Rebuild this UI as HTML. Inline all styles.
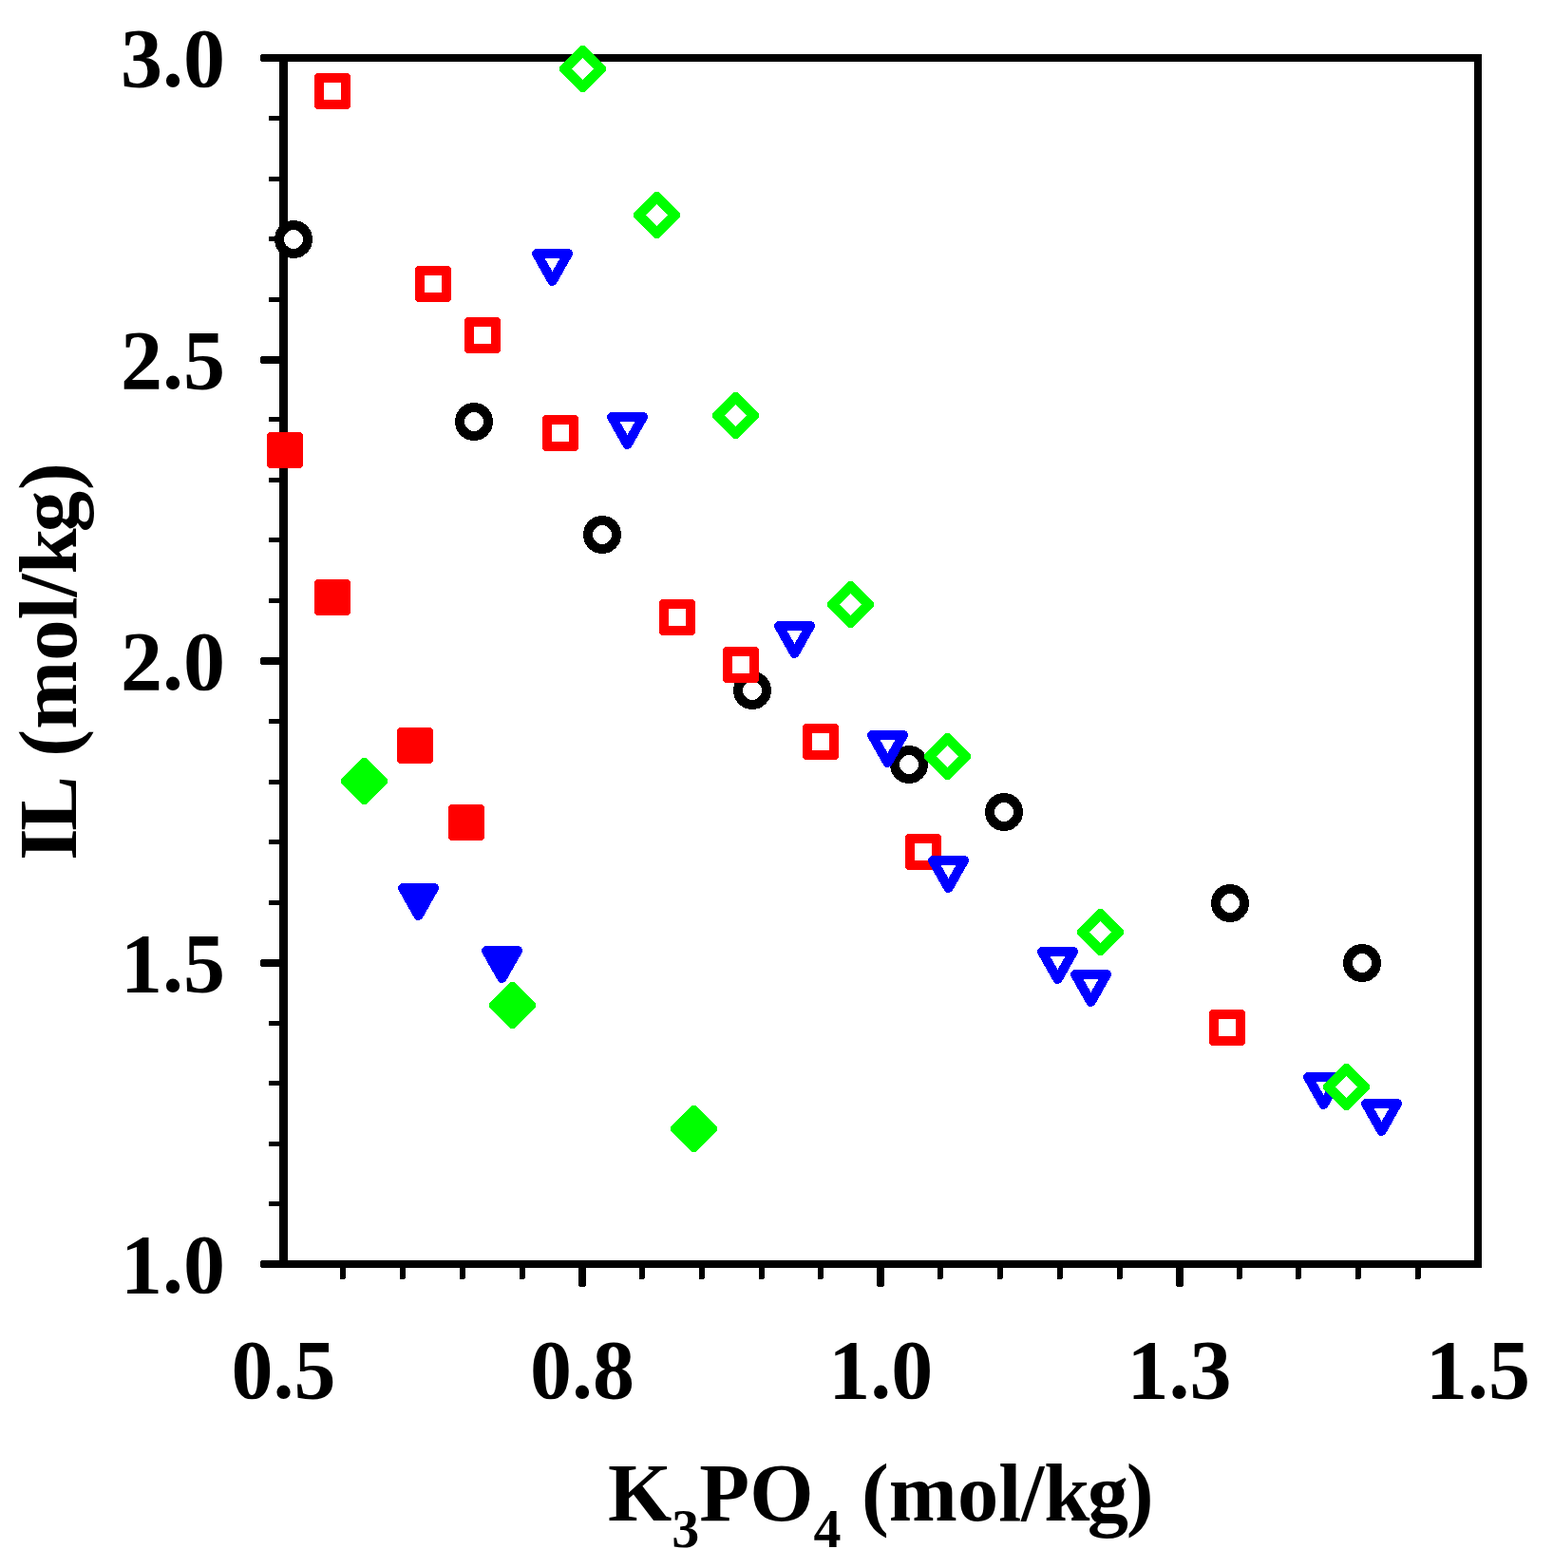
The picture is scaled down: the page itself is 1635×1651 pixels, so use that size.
<!DOCTYPE html>
<html><head><meta charset="utf-8"><title>IL vs K3PO4</title>
<style>html,body{margin:0;padding:0;background:#fff;}svg{display:block;}</style></head><body>
<svg width="1635" height="1651" viewBox="0 0 1635 1651">
<rect width="1635" height="1651" fill="#fff"/>
<g fill="#000" shape-rendering="crispEdges">
<rect x="294" y="57" width="1266" height="8"/>
<rect x="294" y="1327" width="1266" height="8"/>
<rect x="274" y="1327" width="24" height="8" rx="2.5"/>
<rect x="294" y="57" width="9" height="1278"/>
<rect x="1552" y="57" width="8" height="1278"/>
<rect x="274" y="57" width="24" height="8" rx="2.5"/>
<rect x="283" y="1265" width="15" height="5" rx="1.5"/>
<rect x="283" y="1202" width="15" height="5" rx="1.5"/>
<rect x="283" y="1138" width="15" height="5" rx="1.5"/>
<rect x="283" y="1075" width="15" height="5" rx="1.5"/>
<rect x="274" y="1010" width="24" height="8" rx="2.5"/>
<rect x="283" y="948" width="15" height="5" rx="1.5"/>
<rect x="283" y="884" width="15" height="5" rx="1.5"/>
<rect x="283" y="821" width="15" height="5" rx="1.5"/>
<rect x="283" y="757" width="15" height="5" rx="1.5"/>
<rect x="274" y="692" width="24" height="8" rx="2.5"/>
<rect x="283" y="630" width="15" height="5" rx="1.5"/>
<rect x="283" y="566" width="15" height="5" rx="1.5"/>
<rect x="283" y="503" width="15" height="5" rx="1.5"/>
<rect x="283" y="439" width="15" height="5" rx="1.5"/>
<rect x="274" y="375" width="24" height="8" rx="2.5"/>
<rect x="283" y="313" width="15" height="5" rx="1.5"/>
<rect x="283" y="249" width="15" height="5" rx="1.5"/>
<rect x="283" y="186" width="15" height="5" rx="1.5"/>
<rect x="283" y="122" width="15" height="5" rx="1.5"/>
<rect x="358" y="1331" width="6" height="16" rx="2"/>
<rect x="421" y="1331" width="6" height="16" rx="2"/>
<rect x="484" y="1331" width="6" height="16" rx="2"/>
<rect x="547" y="1331" width="6" height="16" rx="2"/>
<rect x="609" y="1331" width="8" height="24" rx="2.5"/>
<rect x="673" y="1331" width="6" height="16" rx="2"/>
<rect x="736" y="1331" width="6" height="16" rx="2"/>
<rect x="799" y="1331" width="6" height="16" rx="2"/>
<rect x="861" y="1331" width="6" height="16" rx="2"/>
<rect x="923" y="1331" width="8" height="24" rx="2.5"/>
<rect x="987" y="1331" width="6" height="16" rx="2"/>
<rect x="1050" y="1331" width="6" height="16" rx="2"/>
<rect x="1113" y="1331" width="6" height="16" rx="2"/>
<rect x="1176" y="1331" width="6" height="16" rx="2"/>
<rect x="1238" y="1331" width="8" height="24" rx="2.5"/>
<rect x="1302" y="1331" width="6" height="16" rx="2"/>
<rect x="1364" y="1331" width="6" height="16" rx="2"/>
<rect x="1427" y="1331" width="6" height="16" rx="2"/>
<rect x="1490" y="1331" width="6" height="16" rx="2"/>
</g>
<g font-family="&quot;Liberation Serif&quot;, serif" font-weight="bold" font-size="88" fill="#000">
<text x="237" y="91.0" text-anchor="end">3.0</text>
<text x="237" y="408.5" text-anchor="end">2.5</text>
<text x="237" y="726.0" text-anchor="end">2.0</text>
<text x="237" y="1043.5" text-anchor="end">1.5</text>
<text x="237" y="1361.0" text-anchor="end">1.0</text>
<text x="298.5" y="1472" text-anchor="middle">0.5</text>
<text x="612.9" y="1472" text-anchor="middle">0.8</text>
<text x="927.2" y="1472" text-anchor="middle">1.0</text>
<text x="1241.6" y="1472" text-anchor="middle">1.3</text>
<text x="1556.0" y="1472" text-anchor="middle">1.5</text>
<text x="640" y="1601" font-size="86.5">K<tspan font-size="58" dy="28">3</tspan><tspan dy="-28">PO</tspan><tspan font-size="58" dy="28">4</tspan><tspan dy="-28"> (mol/k</tspan><tspan dx="-2.5">g</tspan><tspan dx="-2.4">)</tspan></text>
<text transform="translate(79.5 905.9) rotate(-90)" font-size="86.5">I<tspan dx="-2.5">L</tspan><tspan dx="3.5"> (mol/k</tspan><tspan dx="-4">g</tspan><tspan dx="1">)</tspan></text>
</g>
<g shape-rendering="crispEdges">
<g fill="#fff" stroke="#000" stroke-width="10">
<circle cx="309" cy="252" r="15"/>
<circle cx="499" cy="444" r="15"/>
<circle cx="634" cy="563" r="15"/>
<circle cx="792" cy="727" r="15"/>
<circle cx="957" cy="805" r="15"/>
<circle cx="1057" cy="855" r="15"/>
<circle cx="1295" cy="951" r="15"/>
<circle cx="1434" cy="1014" r="15"/>
</g>
<g fill="#f00">
<path d="M333.3,77.0H366.7L369.0,79.3V112.7L366.7,115.0H333.3L331.0,112.7V79.3Z"/><rect x="341.0" y="87.0" width="18" height="18" fill="#fff"/>
<path d="M439.3,280.0H472.7L475.0,282.3V315.7L472.7,318.0H439.3L437.0,315.7V282.3Z"/><rect x="447.0" y="290.0" width="18" height="18" fill="#fff"/>
<path d="M491.3,334.0H524.7L527.0,336.3V369.7L524.7,372.0H491.3L489.0,369.7V336.3Z"/><rect x="499.0" y="344.0" width="18" height="18" fill="#fff"/>
<path d="M573.3,437.0H606.7L609.0,439.3V472.7L606.7,475.0H573.3L571.0,472.7V439.3Z"/><rect x="581.0" y="447.0" width="18" height="18" fill="#fff"/>
<path d="M696.3,631.0H729.7L732.0,633.3V666.7L729.7,669.0H696.3L694.0,666.7V633.3Z"/><rect x="704.0" y="641.0" width="18" height="18" fill="#fff"/>
<path d="M763.3,681.0H796.7L799.0,683.3V716.7L796.7,719.0H763.3L761.0,716.7V683.3Z"/><rect x="771.0" y="691.0" width="18" height="18" fill="#fff"/>
<path d="M847.3,762.0H880.7L883.0,764.3V797.7L880.7,800.0H847.3L845.0,797.7V764.3Z"/><rect x="855.0" y="772.0" width="18" height="18" fill="#fff"/>
<path d="M955.3,878.0H988.7L991.0,880.3V913.7L988.7,916.0H955.3L953.0,913.7V880.3Z"/><rect x="963.0" y="888.0" width="18" height="18" fill="#fff"/>
<path d="M1275.3,1063.0H1308.7L1311.0,1065.3V1098.7L1308.7,1101.0H1275.3L1273.0,1098.7V1065.3Z"/><rect x="1283.0" y="1073.0" width="18" height="18" fill="#fff"/>
<path d="M283.3,455.0H316.7L319.0,457.3V490.7L316.7,493.0H283.3L281.0,490.7V457.3Z"/>
<path d="M333.3,610.0H366.7L369.0,612.3V645.7L366.7,648.0H333.3L331.0,645.7V612.3Z"/>
<path d="M420.3,766.0H453.7L456.0,768.3V801.7L453.7,804.0H420.3L418.0,801.7V768.3Z"/>
<path d="M474.3,847.0H507.7L510.0,849.3V882.7L507.7,885.0H474.3L472.0,882.7V849.3Z"/>
</g>
<g stroke="#00f" stroke-width="10" stroke-linejoin="round">
<path d="M565.0,267.0H598.0L581.5,296.0Z" fill="#fff"/>
<path d="M644.0,439.0H677.0L660.5,468.0Z" fill="#fff"/>
<path d="M820.0,659.0H853.0L836.5,688.0Z" fill="#fff"/>
<path d="M918.0,774.0H951.0L934.5,803.0Z" fill="#fff"/>
<path d="M982.0,906.0H1015.0L998.5,935.0Z" fill="#fff"/>
<path d="M1097.0,1002.0H1130.0L1113.5,1031.0Z" fill="#fff"/>
<path d="M1132.0,1026.0H1165.0L1148.5,1055.0Z" fill="#fff"/>
<path d="M1377.0,1134.0H1410.0L1393.5,1163.0Z" fill="#fff"/>
<path d="M1438.0,1162.0H1471.0L1454.5,1191.0Z" fill="#fff"/>
<path d="M424.0,935.0H457.0L440.5,964.0Z" fill="#00f"/>
<path d="M512.0,1001.0H545.0L528.5,1030.0Z" fill="#00f"/>
</g>
<g stroke="#0f0" stroke-width="10.5" stroke-linejoin="round">
<path d="M613.5,53.25L632.75,72.5L613.5,91.75L594.25,72.5Z" fill="#fff"/>
<path d="M691.5,207.25L710.75,226.5L691.5,245.75L672.25,226.5Z" fill="#fff"/>
<path d="M774.5,418.25L793.75,437.5L774.5,456.75L755.25,437.5Z" fill="#fff"/>
<path d="M895.5,617.25L914.75,636.5L895.5,655.75L876.25,636.5Z" fill="#fff"/>
<path d="M997.5,777.25L1016.75,796.5L997.5,815.75L978.25,796.5Z" fill="#fff"/>
<path d="M1158.5,962.25L1177.75,981.5L1158.5,1000.75L1139.25,981.5Z" fill="#fff"/>
<path d="M1417.5,1125.25L1436.75,1144.5L1417.5,1163.75L1398.25,1144.5Z" fill="#fff"/>
<path d="M383.5,803.25L402.75,822.5L383.5,841.75L364.25,822.5Z" fill="#0f0"/>
<path d="M539.5,1039.25L558.75,1058.5L539.5,1077.75L520.25,1058.5Z" fill="#0f0"/>
<path d="M730.5,1169.25L749.75,1188.5L730.5,1207.75L711.25,1188.5Z" fill="#0f0"/>
</g>
</g>
</svg>
</body></html>
